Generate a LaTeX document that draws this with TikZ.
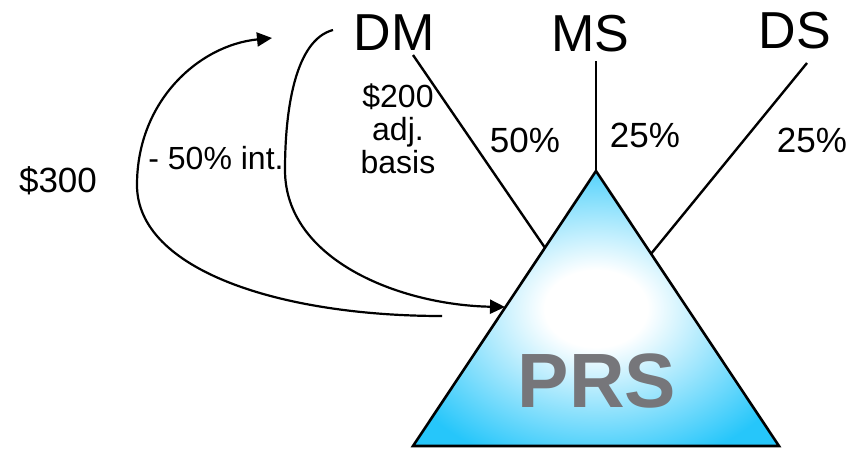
\documentclass[tikz,border=0pt]{standalone}
\usepackage{fontspec}
\setmainfont{Liberation Sans}
\usetikzlibrary{arrows.meta,calc}
\definecolor{prscyan}{RGB}{38,198,250}
\definecolor{prsgray}{RGB}{118,118,122}
\pgfdeclareradialshading{prsglow}{\pgfpoint{0bp}{0bp}}{color(0bp)=(white); color(7bp)=(white); color(30bp)=(prscyan); color(50bp)=(prscyan)}
\begin{document}
\begin{tikzpicture}[x=1pt,y=-1pt,>={Triangle[length=15pt,width=14pt]},
    owner/.style={inner sep=0pt,anchor=base,font=\fontsize{52}{60}\selectfont},
    share/.style={inner sep=0pt,anchor=base,font=\fontsize{35}{40}\selectfont},
    note/.style={inner sep=0pt,anchor=base,align=center,font=\fontsize{32}{33}\selectfont},
    link/.style={line width=2.4pt},
    flow/.style={line width=2.2pt}]
   \useasboundingbox (0,0) rectangle (852,448);

   % the partnership
   \coordinate (pl) at (413,446);
   \coordinate (pr) at (779,446);
   \coordinate (pa) at (596,171);
   \shade[shading=prsglow] (pl) -- (pa) -- (pr) -- cycle;
   \draw[line width=2.6pt,line join=miter] (pl) -- (pa) -- (pr) -- cycle;
   \node[inner sep=0pt,anchor=base,text=prsgray,font=\fontsize{77}{80}\selectfont\bfseries] (prs) at (597,407) {PRS};

   % partners
   \node[owner] (dm) at (394,50) {DM};
   \node[owner] (ms) at (590,51) {MS};
   \node[owner] (ds) at (795,48) {DS};

   \coordinate (dmfoot) at (413,55);
   \coordinate (msfoot) at (596,61);
   \coordinate (dsfoot) at (807,63);
   \coordinate (dmedge) at ($(pl)!0.721!(pa)$);
   \coordinate (dsedge) at ($(pr)!0.699!(pa)$);

   \draw[link] (dmfoot) -- (dmedge);
   \draw[link] (msfoot) -- (pa);
   \draw[link] (dsfoot) -- (dsedge);

   \node[share] (dmshare) at (525,152) {50\%};
   \node[share] (msshare) at (645,147) {25\%};
   \node[share] (dsshare) at (812,152) {25\%};

   % distribution and contribution
   \node[share] (cash) at (58,192) {\$300};
   \node[note] (int) at (216,169) {- 50\% int.};
   \node[note] (basis) at (398,173) {\$200\\adj.\\basis};

   \coordinate (outstart) at (442,316);
   \coordinate (outend) at (272,38);
   \coordinate (instart) at (333,30);
   \coordinate (inend) at (505,307);

   \draw[flow,->] (outstart) .. controls (280,316) and (137,270) .. (137,185)
        .. controls (137,100) and (200,45) .. (outend);
   \draw[flow,->] (instart) .. controls (295,40) and (285,110) .. (285,170)
        .. controls (285,260) and (400,305) .. (inend);
\end{tikzpicture}
\end{document}
